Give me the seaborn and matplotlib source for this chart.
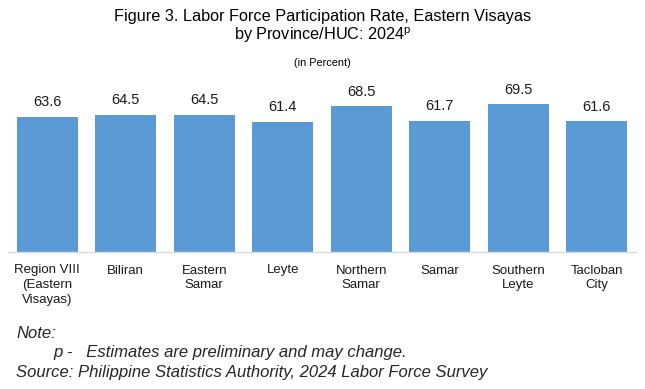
import matplotlib
matplotlib.use("Agg")
import matplotlib.pyplot as plt
import seaborn as sns
import pandas as pd

categories = ["Region VIII\n(Eastern\nVisayas)", "Biliran", "Eastern\nSamar", "Leyte",
              "Northern\nSamar", "Samar", "Southern\nLeyte", "Tacloban\nCity"]
values = [63.6, 64.5, 64.5, 61.4, 68.5, 61.7, 69.5, 61.6]

sns.set_theme(style="white")
plt.rcParams['font.family'] = ['Liberation Sans', 'DejaVu Sans']

df = pd.DataFrame({"cat": categories, "val": values})

fig = plt.figure(figsize=(6.45, 3.89), dpi=100)
ax = fig.add_axes([8/645, 1 - 252/389, 628/645, (252 - 82)/389])
sns.barplot(data=df, x="cat", y="val", color="#5B9BD5", width=0.78, saturation=1,
            linewidth=0, ax=ax)
ax.set_ylim(0, 80)
ax.set_xlim(-0.5, len(categories) - 0.5)
for i, v in enumerate(values):
    ax.text(i, v + 3.5, f"{v:.1f}", ha="center", va="bottom", fontsize=10.5, color="#1a1a1a")
ax.set_yticks([])
ax.set_xlabel("")
ax.set_ylabel("")
ax.tick_params(axis="x", length=0, pad=9, labelsize=9.5, colors="#1a1a1a")
for lbl in ax.get_xticklabels():
    lbl.set_linespacing(1.3)
for s in ["top", "right", "left"]:
    ax.spines[s].set_visible(False)
ax.spines["bottom"].set_color("#D9D9D9")
ax.spines["bottom"].set_linewidth(1)

fig.text(0.5, 1 - 17/389, "Figure 3. Labor Force Participation Rate, Eastern Visayas",
         ha="center", va="center", fontsize=11.7, color="black")
fig.text(0.5, 1 - 35/389, "by Province/HUC: 2024$^{\\mathregular{p}}$",
         ha="center", va="center", fontsize=11.7, color="black")
fig.text(0.5, 1 - 63/389, "(in Percent)", ha="center", va="center", fontsize=7.8, color="black")

fig.text(16/645, 1 - 334/389, "Note:", ha="left", va="center", fontsize=12, style="italic")
fig.text(53/645, 1 - 353/389, "p -   Estimates are preliminary and may change.",
         ha="left", va="center", fontsize=12, style="italic")
fig.text(16/645, 1 - 372/389, "Source: Philippine Statistics Authority, 2024 Labor Force Survey",
         ha="left", va="center", fontsize=12, style="italic")

fig.savefig("out.png", dpi=100)
